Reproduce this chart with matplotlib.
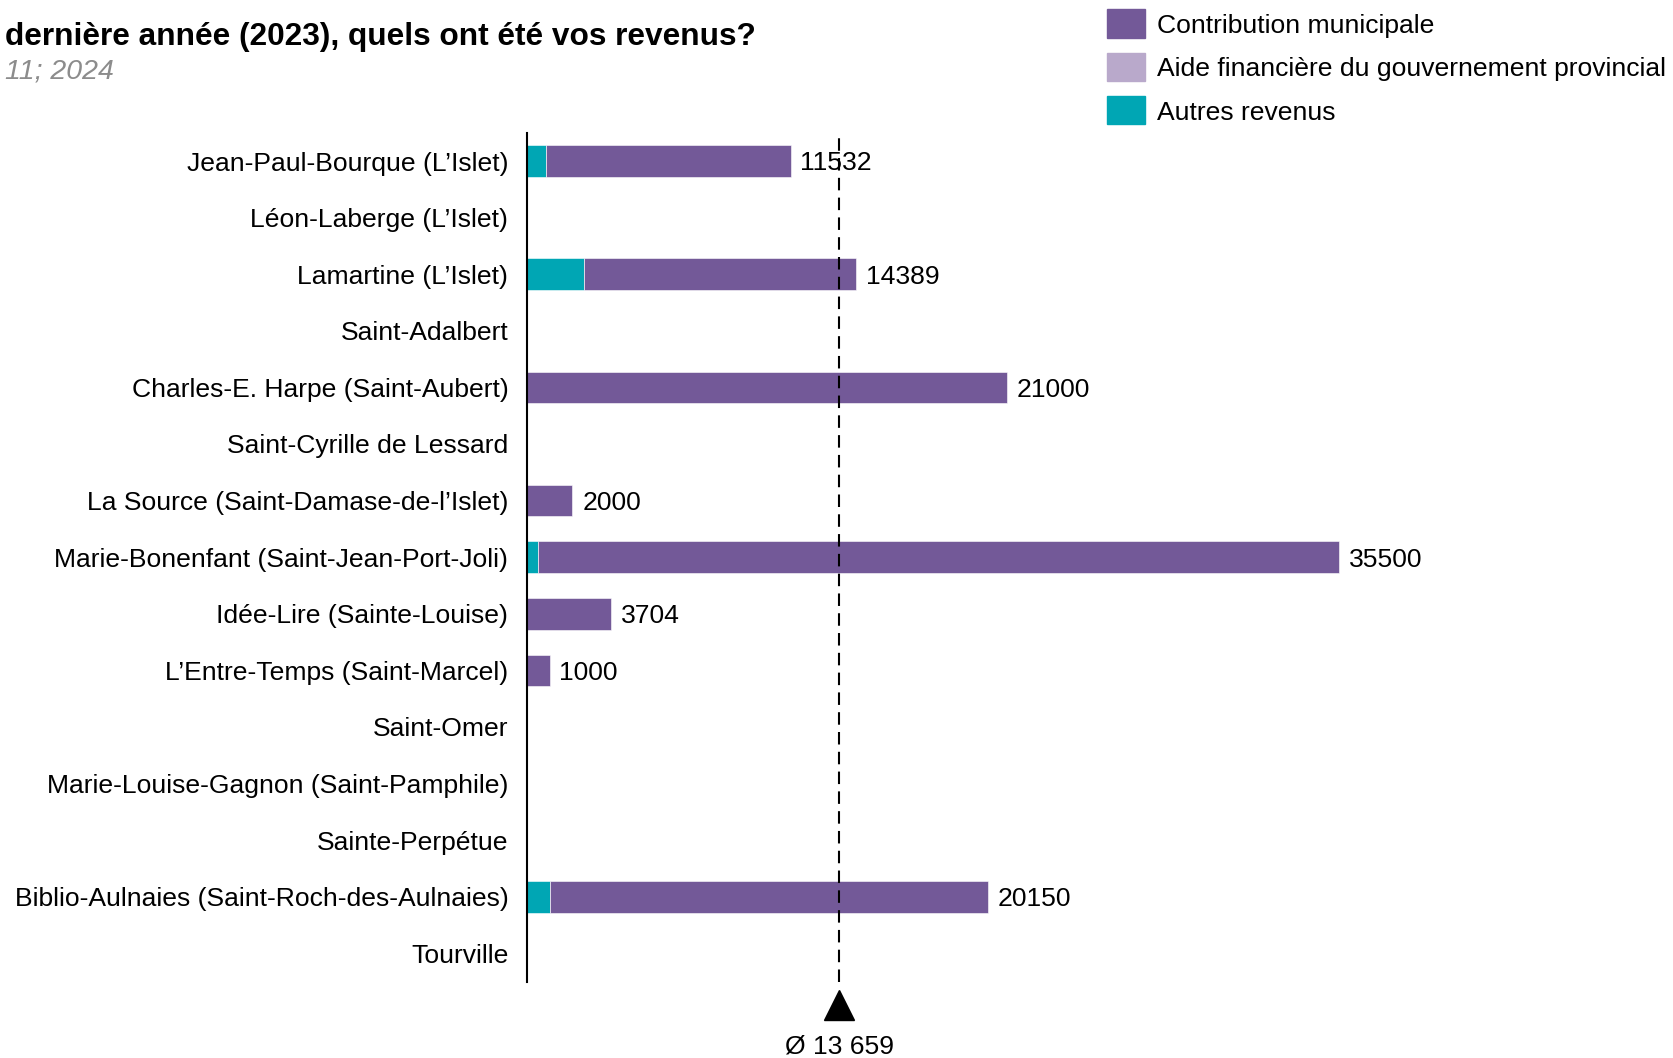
import numpy as np
import matplotlib.pyplot as plt
from matplotlib.patches import Rectangle

plt.rcParams['font.family'] = ['Liberation Sans', 'DejaVu Sans']

libraries = [
    "Jean-Paul-Bourque (L\u2019Islet)",
    "L\u00e9on-Laberge (L\u2019Islet)",
    "Lamartine (L\u2019Islet)",
    "Saint-Adalbert",
    "Charles-E. Harpe (Saint-Aubert)",
    "Saint-Cyrille de Lessard",
    "La Source (Saint-Damase-de-l\u2019Islet)",
    "Marie-Bonenfant (Saint-Jean-Port-Joli)",
    "Id\u00e9e-Lire (Sainte-Louise)",
    "L\u2019Entre-Temps (Saint-Marcel)",
    "Saint-Omer",
    "Marie-Louise-Gagnon (Saint-Pamphile)",
    "Sainte-Perp\u00e9tue",
    "Biblio-Aulnaies (Saint-Roch-des-Aulnaies)",
    "Tourville",
]
# revenue parts per library (nan = no answer)
autres = [832, np.nan, 2500, np.nan, 0, np.nan, 0, 500, 0, 0, np.nan, np.nan, np.nan, 1000, np.nan]
aide_prov = [0, np.nan, 0, np.nan, 0, np.nan, 0, 0, 0, 0, np.nan, np.nan, np.nan, 0, np.nan]
municipal = [10700, np.nan, 11889, np.nan, 21000, np.nan, 2000, 35000, 3704, 1000,
             np.nan, np.nan, np.nan, 19150, np.nan]

series_names = ["Contribution municipale", "Aide financi\u00e8re du gouvernement provincial",
                "Autres revenus"]
colors = ["#735998", "#B9A9CB", "#00A6B4"]

autres = np.array(autres, dtype=float)
aide_prov = np.array(aide_prov, dtype=float)
municipal = np.array(municipal, dtype=float)
total = autres + aide_prov + municipal
mean_total = np.nanmean(total)

FS = 19.05
W, H = 1674, 1058
fig = plt.figure(figsize=(W / 100, H / 100), dpi=100)
ax = fig.add_axes([526.7 / W, 1 - 981.7 / H, 915.5 / W, 849 / H])

y = np.arange(len(libraries))
bh = 0.56
left = np.zeros(len(y))
for vals, col in [(autres, colors[2]), (aide_prov, colors[1]), (municipal, colors[0])]:
    v = np.nan_to_num(vals)
    ax.barh(y, v, left=left, height=bh, color=col, edgecolor="#ffffff", linewidth=0.4)
    left = left + v

for yi, t in zip(y, total):
    if np.isfinite(t):
        ax.annotate(f"{t:.0f}", (t, yi), xytext=(7, 0), textcoords="offset points",
                    ha="left", va="center_baseline", fontsize=FS)

ax.axvline(mean_total, color="black", lw=1.5, ls=(0, (6, 3.5)))
tr = ax.get_xaxis_transform()
ax.plot([mean_total], [-0.0275], marker="^", markersize=21, color="black",
        transform=tr, clip_on=False)
ax.text(mean_total, -0.0735, "\u00d8 13 659", transform=tr,
        ha="center", va="center_baseline", fontsize=FS)

ax.set_xlim(0, 40000)
ax.set_ylim(len(y) - 0.5, -0.5)
ax.set_yticks(y)
ax.set_yticklabels(libraries, fontsize=FS)
ax.tick_params(axis="y", length=0, pad=13.2)
ax.set_xticks([])
for s in ["top", "right", "bottom"]:
    ax.spines[s].set_visible(False)
ax.spines["left"].set_linewidth(1.5)

fig.text(5 / W, 1 - 34 / H, "derni\u00e8re ann\u00e9e (2023), quels ont \u00e9t\u00e9 vos revenus?",
         fontsize=22.8, fontweight="bold", ha="left", va="center_baseline")
fig.text(5 / W, 1 - 68 / H, "11; 2024", fontsize=20.5, style="italic", color="#8c8c8c",
         ha="left", va="center_baseline")

# legend
for i, (name, col) in enumerate(zip(series_names, colors)):
    yc = 23.5 + i * 43.3
    fig.patches.append(Rectangle((1107 / W, 1 - (yc + 14) / H), 38 / W, 28 / H,
                                 transform=fig.transFigure, color=col))
    fig.text(1156.7 / W, 1 - yc / H, name, fontsize=FS, ha="left", va="center_baseline")

fig.savefig("out.png", dpi=100)
